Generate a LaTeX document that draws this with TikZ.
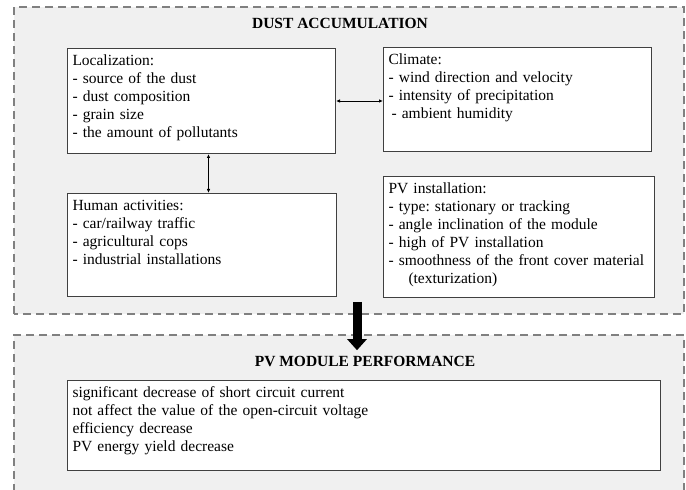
\documentclass[tikz,border=0pt]{standalone}
\usepackage{fontspec}
\setmainfont{Liberation Serif}
\usetikzlibrary{arrows.meta}
\frenchspacing

\begin{document}
\begin{tikzpicture}[
        x=1pt, y=1pt,
        font=\fontsize{15.5}{18}\selectfont,
        zone/.style={fill=black!6, draw=black!50, line width=1.1pt, dash pattern=on 8pt off 5pt},
        factor/.style={draw=black!75, fill=white, line width=1pt, anchor=north west, align=left,
                       inner xsep=5pt, inner ysep=6pt, text height=11pt, text depth=#1},
        heading/.style={font=\fontsize{15.5}{18}\selectfont\bfseries},
        link/.style={{Latex[length=4pt,width=3.5pt]}-{Latex[length=4pt,width=3.5pt]}, line width=0.8pt},
        flow/.style={-{Triangle[width=19pt,length=11pt]}, line width=9pt}
    ]
        \useasboundingbox (0,0) rectangle (686,490);
        \path[zone] (14,176) rectangle (684,483);
        \path[zone] (14,-2) -- (14,155) -- (684,155) -- (684,-2);

        \node[heading] (dusttitle) at (340,467) {DUST ACCUMULATION};
        \node[factor=82pt, text width=258pt] (loc) at (67,442)
            {Localization:\\- source of the dust\\- dust composition\\- grain size\\- the amount of pollutants};
        \node[factor=81pt, text width=258pt] (clim) at (383,443)
            {Climate:\\- wind direction and velocity\\- intensity of precipitation\\\hspace*{3pt}- ambient humidity};
        \node[factor=80pt, text width=259pt] (human) at (67,297)
            {Human activities:\\- car/railway traffic\\- agricultural cops\\- industrial installations};
        \node[factor=98pt, text width=261pt] (pvinst) at (383,314)
            {PV installation:\\- type: stationary or tracking\\- angle inclination of the module\\- high of PV installation\\- smoothness of the front cover material\\\hspace*{20pt}(texturization)};
        \draw[link] (loc.east) -- (loc.east -| clim.west);
        \draw[link] ([xshift=7pt]loc.south) -- ([xshift=7pt]loc.south |- human.north);

        \node[heading] (perftitle) at (365,129) {PV MODULE PERFORMANCE};
        \node[factor=67pt, text width=583pt] (perf) at (67,110)
            {significant decrease of short circuit current\\not affect the value of the open-circuit voltage\\efficiency decrease\\PV energy yield decrease};

        \coordinate (flowstart) at (357,188);
        \draw[flow] (flowstart) -- ([yshift=2pt]flowstart |- perftitle.north);
    \end{tikzpicture}
\end{document}
